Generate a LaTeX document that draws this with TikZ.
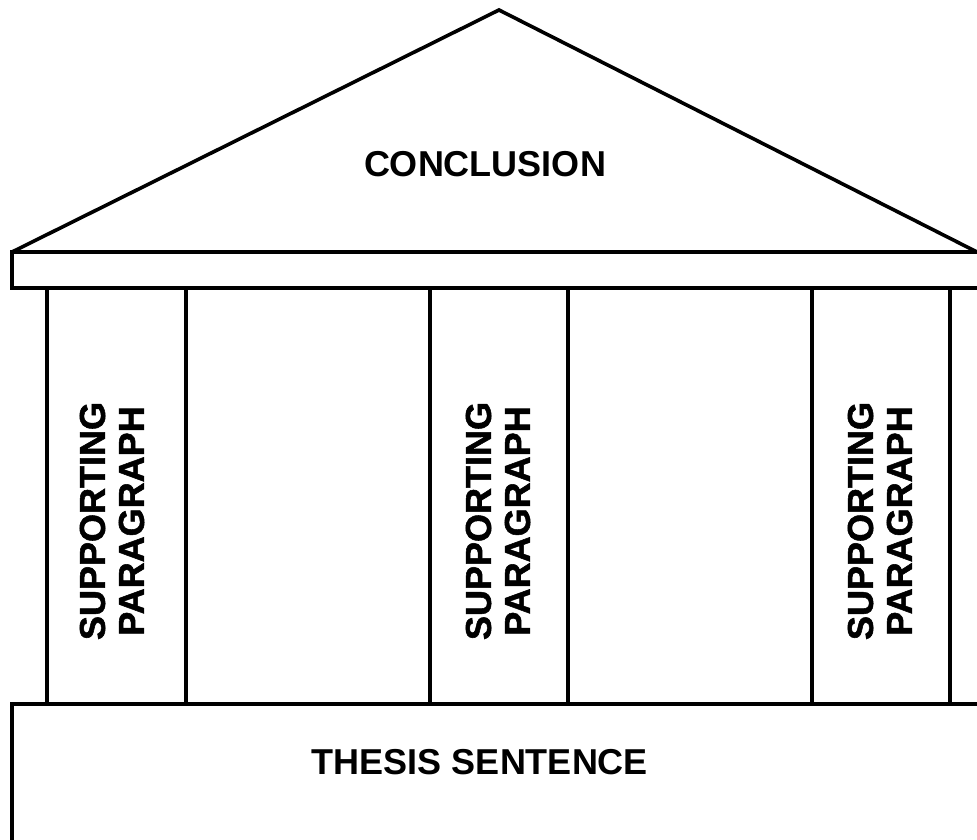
\documentclass[tikz,border=0pt]{standalone}
\usepackage{fontspec}
\setmainfont{Liberation Sans}
% heavier bold for the rotated pillar labels
\newfontfamily\heavysans[BoldFeatures={FakeBold=1.5}]{Liberation Sans}
\begin{document}
\begin{tikzpicture}[x=1pt, y=-1pt,
  part/.style={draw=black, line width=3.6pt, line join=miter},
  caption/.style={font=\fontsize{36}{39}\bfseries\selectfont, align=center, inner sep=0pt},
  pillar text/.style={caption, rotate=90, font=\fontsize{36}{39}\heavysans\bfseries\selectfont}]
\useasboundingbox (0,0) rectangle (977,840);
\clip (0,0) rectangle (977,840);

% roof
\draw[part] (12,252) -- (499,10) -- (977,252);
% entablature
\draw[part] (12,252) rectangle (1010,288);
% pillars
\draw[part] (47,288) rectangle (186,704);
\draw[part] (430,288) rectangle (568,704);
\draw[part] (812,288) rectangle (950,704);
% foundation
\draw[part] (12,704) rectangle (1010,900);

% labels
\node[caption] (conclusion) at (485,164) {CONCLUSION};
\node[pillar text] (sp1) at (112,521) {SUPPORTING\\PARAGRAPH};
\node[pillar text] (sp2) at (498,521) {SUPPORTING\\PARAGRAPH};
\node[pillar text] (sp3) at (880,521) {SUPPORTING\\PARAGRAPH};
\node[caption] (thesis) at (480,762) {THESIS SENTENCE};
\end{tikzpicture}
\end{document}
